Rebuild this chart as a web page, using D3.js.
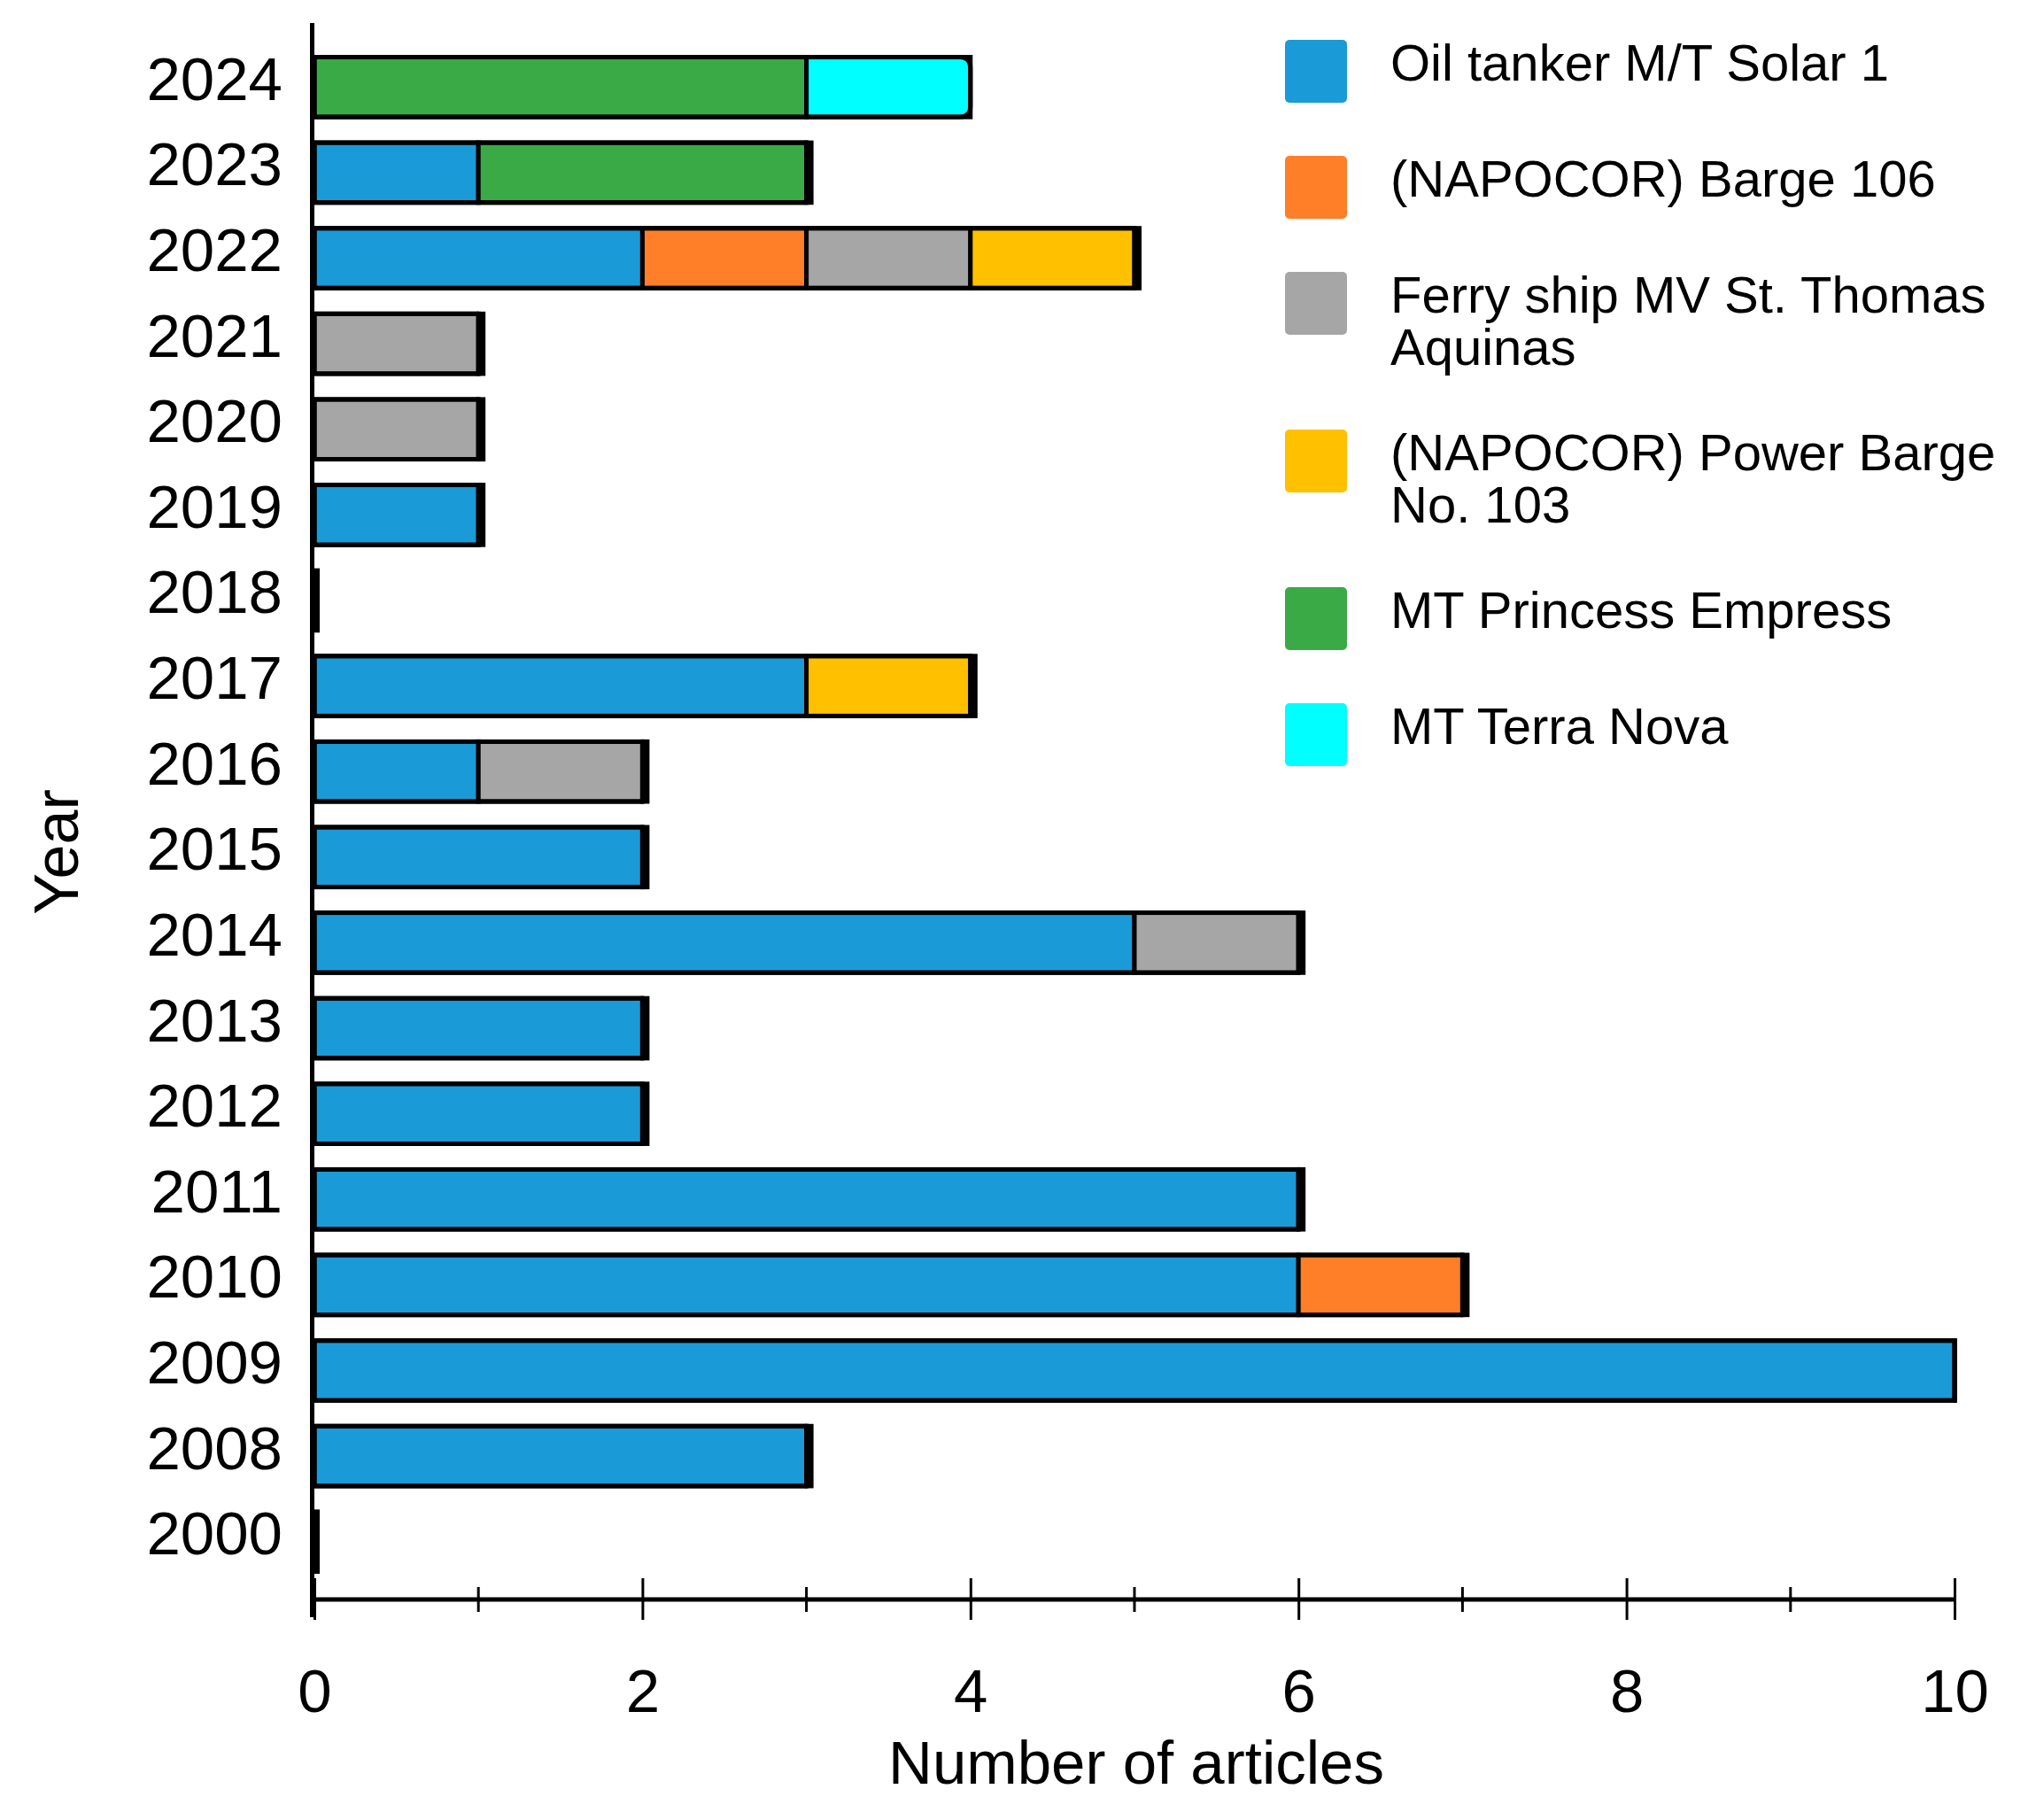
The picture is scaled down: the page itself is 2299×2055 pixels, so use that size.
<!DOCTYPE html>
<html>
<head>
<meta charset="utf-8">
<script src="https://cdn.jsdelivr.net/npm/d3@7"></script>
<style>
  body { margin: 0; background: #fff; }
  text { font-family: "Liberation Sans", Arial, sans-serif; fill: #000; }
</style>
</head>
<body>
<div id="chart"></div>
<script>
// categories (top to bottom)
var years = ["2024", "2023", "2022", "2021", "2020", "2019", "2018", "2017", "2016",
             "2015", "2014", "2013", "2012", "2011", "2010", "2009", "2008", "2000"];

var series = ["Oil tanker M/T Solar 1", "(NAPOCOR) Barge 106",
              "Ferry ship MV St. Thomas Aquinas", "(NAPOCOR) Power Barge No. 103",
              "MT Princess Empress", "MT Terra Nova"];
var legendLines = [["Oil tanker M/T Solar 1"], ["(NAPOCOR) Barge 106"],
                   ["Ferry ship MV St. Thomas", "Aquinas"],
                   ["(NAPOCOR) Power Barge", "No. 103"],
                   ["MT Princess Empress"], ["MT Terra Nova"]];
var colors = ["#1a9ad6", "#fe7f27", "#a6a6a6", "#ffc000", "#3aaa47", "#00ffff"];

// number of articles per year, same order as years
var solar1          = [0, 1, 2, 0, 0, 1, 0, 3, 1, 2, 5, 2, 2, 6, 6, 10, 3, 0];
var barge106        = [0, 0, 1, 0, 0, 0, 0, 0, 0, 0, 0, 0, 0, 0, 1, 0, 0, 0];
var ferry           = [0, 0, 1, 1, 1, 0, 0, 0, 1, 0, 1, 0, 0, 0, 0, 0, 0, 0];
var powerBarge103   = [0, 0, 1, 0, 0, 0, 0, 1, 0, 0, 0, 0, 0, 0, 0, 0, 0, 0];
var princessEmpress = [3, 2, 0, 0, 0, 0, 0, 0, 0, 0, 0, 0, 0, 0, 0, 0, 0, 0];
var terraNova       = [1, 0, 0, 0, 0, 0, 0, 0, 0, 0, 0, 0, 0, 0, 0, 0, 0, 0];

var majorTicks = [0, 2, 4, 6, 8, 10];
var minorTicks = [1, 3, 5, 7, 9];

var width = 2299;
var height = 2055;
var seriesValues = [solar1, barge106, ferry, powerBarge103, princessEmpress, terraNova];

// table for d3.stack
var rows = years.map(function(yr, i) {
  var row = { year: yr };
  series.forEach(function(s, j) { row[s] = seriesValues[j][i]; });
  return row;
});
var stacked = d3.stack().keys(series)(rows);

var svg = d3.select("#chart").append("svg")
  .attr("width", width).attr("height", height);

var x = d3.scaleLinear().domain([0, 10]).range([355, 2207]);
var y = d3.scaleBand().domain(years).range([50, 1789])
  .paddingInner(0.3).paddingOuter(0.15);
var bw = y.bandwidth();
var axisY = 1806;

// bar segments
svg.append("g").selectAll("g")
  .data(stacked)
  .enter().append("g")
  .attr("fill", function(d, i) { return colors[i]; })
  .selectAll("rect")
  .data(function(d) { return d.filter(function(v) { return v[1] > v[0]; }); })
  .enter().append("rect")
  .attr("x", function(d) { return x(d[0]); })
  .attr("y", function(d) { return y(d.data.year); })
  .attr("width", function(d) { return x(d[1]) - x(d[0]); })
  .attr("height", bw)
  .attr("stroke", "#000")
  .attr("stroke-width", 5);

// outline and heavy right end of each bar
var totals = rows.map(function(r) {
  return { year: r.year, total: d3.sum(series, function(s) { return r[s]; }) };
});
var roundedYear = "2024";

function outlinePath(d, r) {
  var x0 = x(0), x1 = x(d.total), y0 = y(d.year), y1 = y0 + bw;
  return "M" + x0 + "," + y0 + "H" + (x1 - r) +
    "Q" + x1 + "," + y0 + " " + x1 + "," + (y0 + r) +
    "V" + (y1 - r) + "Q" + x1 + "," + y1 + " " + (x1 - r) + "," + y1 +
    "H" + x0 + "Z";
}

svg.append("g").selectAll("path")
  .data(totals.filter(function(d) { return d.total > 0; }))
  .enter().append("path")
  .attr("d", function(d) { return outlinePath(d, d.year === roundedYear ? 12 : 0); })
  .attr("fill", "none")
  .attr("stroke", "#000")
  .attr("stroke-width", 5)
  .attr("stroke-linejoin", "round");

svg.append("g").selectAll("rect")
  .data(totals.filter(function(d) { return d.year !== roundedYear; }))
  .enter().append("rect")
  .attr("x", function(d) { return x(d.total) - 2; })
  .attr("y", function(d) { return y(d.year) - 2.5; })
  .attr("width", function(d) { return d.total >= 10 ? 5 : (d.total > 0 ? 10 : 8); })
  .attr("height", bw + 5)
  .attr("fill", "#000");

// y axis
svg.append("line")
  .attr("x1", 352.5).attr("x2", 352.5)
  .attr("y1", 26).attr("y2", 1826)
  .style("stroke", "#000").style("stroke-width", 5);

var yAxis = svg.append("g")
  .attr("transform", "translate(355,0)")
  .call(d3.axisLeft(y).tickSize(0).tickPadding(36));
yAxis.select(".domain").remove();
yAxis.selectAll("text")
  .attr("dy", "0.21em")
  .style("font-size", "69px")
  .style("font-family", "'Liberation Sans', Arial, sans-serif");

// x axis
svg.append("line")
  .attr("x1", 352).attr("x2", x(10) + 1.5)
  .attr("y1", axisY).attr("y2", axisY)
  .style("stroke", "#000").style("stroke-width", 5);

svg.append("g").selectAll("line")
  .data(minorTicks)
  .enter().append("line")
  .attr("x1", function(d) { return x(d); }).attr("x2", function(d) { return x(d); })
  .attr("y1", axisY - 14).attr("y2", axisY + 14)
  .style("stroke", "#000").style("stroke-width", 3);

var xAxis = svg.append("g")
  .attr("transform", "translate(0," + axisY + ")")
  .call(d3.axisBottom(x).tickValues(majorTicks).tickFormat(d3.format("d"))
    .tickSizeInner(23).tickSizeOuter(0).tickPadding(75));
xAxis.select(".domain").remove();
xAxis.selectAll(".tick line")
  .attr("y1", -24)
  .style("stroke", "#000").style("stroke-width", 3);
xAxis.selectAll("text")
  .attr("dy", "0")
  .style("font-size", "69px")
  .style("font-family", "'Liberation Sans', Arial, sans-serif");
xAxis.selectAll(".tick text").attr("y", 127);

// axis titles
svg.append("text")
  .attr("x", 1283).attr("y", 2014)
  .attr("text-anchor", "middle")
  .style("font-size", "69px")
  .text("Number of articles");

svg.append("text")
  .attr("transform", "translate(88,962) rotate(-90)")
  .attr("text-anchor", "middle")
  .style("font-size", "70px")
  .text("Year");

// legend
var legendY = [];
var cy = 80;
legendLines.forEach(function(lines) {
  legendY.push(cy);
  cy += 131 + 47 * (lines.length - 1);
});

var legend = svg.append("g").selectAll("g")
  .data(series)
  .enter().append("g")
  .attr("transform", function(d, i) { return "translate(1451," + legendY[i] + ")"; });

legend.append("rect")
  .attr("x", 0).attr("y", -35)
  .attr("width", 70).attr("height", 71)
  .attr("rx", 5)
  .attr("fill", function(d, i) { return colors[i]; });

legend.append("text")
  .attr("x", 119)
  .attr("y", 11)
  .style("font-size", "58px")
  .each(function(d, i) {
    var t = d3.select(this);
    legendLines[i].forEach(function(line, k) {
      t.append("tspan").attr("x", 119).attr("dy", k === 0 ? 0 : 59).text(line);
    });
  });
</script>
</body>
</html>
